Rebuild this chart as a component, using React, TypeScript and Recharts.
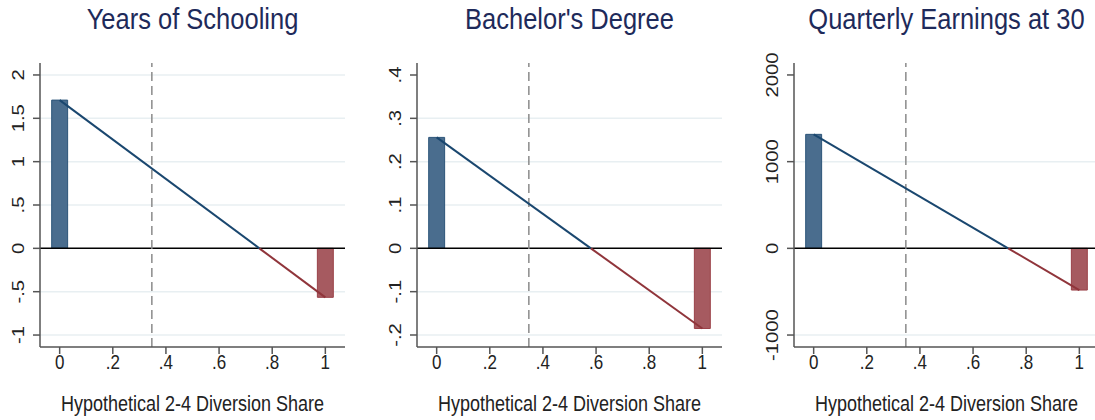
import React from 'react';
import { ComposedChart, XAxis, YAxis, Line, ReferenceArea, ReferenceLine, CartesianGrid } from 'recharts';

// values: effect at share 0 (blue bar) and at share 1 (red bar)
const titles = ['Years of Schooling', "Bachelor's Degree", 'Quarterly Earnings at 30'];
const atZero = [1.71, 0.256, 1315];
const atOne = [-0.565, -0.185, -481];
const yTicks = [
  [-1, -0.5, 0, 0.5, 1, 1.5, 2],
  [-0.2, -0.1, 0, 0.1, 0.2, 0.3, 0.4],
  [-1000, 0, 1000, 2000],
];
const gridVals = [
  [-1, -0.5, 0.5, 1, 1.5, 2],
  [-0.2, -0.1, 0.1, 0.2, 0.3],
  [-1000, 1000],
];
const yDomains: [number, number][] = [
  [-1.138, 2.138],
  [-0.2277, 0.4277],
  [-1138, 2138],
];
const xTicks = [0, 0.2, 0.4, 0.6, 0.8, 1];
const cutoff = 0.347;
const xLabel = 'Hypothetical 2-4 Diversion Share';

const panelLeft = [0, 377, 754];
const W = 365;
const H = 420;
const AXIS_W = 40;
const PLOT_W = 305;
const SY = 1.19;
const FONT = '"Liberation Sans", Arial, sans-serif';

const BLUE_LINE = '#1a476f';
const BLUE_FILL = '#4a6d8e';
const BLUE_EDGE = '#2c5479';
const RED_LINE = '#90353b';
const RED_FILL = '#a65a60';
const RED_EDGE = '#9a4048';
const GRID = '#e8eff2';
const AXIS = '#555';

const fmt = (v: number) => String(v).replace(/^(-?)0\./, '$1.');

function Stretch({ x, y, size, rotate, anchor = 'middle', fill = '#222', children }: any) {
  return (
    <g transform={`translate(${x},${y}) scale(1,${SY})${rotate ? ' rotate(-90)' : ''}`}>
      <text textAnchor={anchor} fontSize={size} fill={fill} fontFamily={FONT}>
        {children}
      </text>
    </g>
  );
}

const YTick = (p: any) => (
  <Stretch x={p.x - 7} y={p.y} size={17} rotate>
    {fmt(p.payload.value)}
  </Stretch>
);

const XTick = (p: any) => (
  <Stretch x={p.x} y={p.y + 13} size={17}>
    {fmt(p.payload.value)}
  </Stretch>
);

function Panel({ i }: { i: number }) {
  const v0 = atZero[i];
  const v1 = atOne[i];
  const cross = v0 / (v0 - v1);
  const blueSeg = [
    { x: 0, y: v0 },
    { x: cross, y: 0 },
  ];
  const redSeg = [
    { x: cross, y: 0 },
    { x: 1, y: v1 },
  ];
  return (
    <div style={{ position: 'absolute', left: panelLeft[i], top: 0, width: W, height: H }}>
      <ComposedChart width={W} height={H} margin={{ top: 63, right: 20, bottom: 0, left: 0 }}>
        <CartesianGrid
          vertical={false}
          horizontalValues={gridVals[i]}
          stroke={GRID}
          strokeWidth={1.5}
        />
        <XAxis
          type="number"
          dataKey="x"
          domain={[-0.074, 1.074]}
          allowDataOverflow
          ticks={xTicks}
          height={73}
          tickSize={7}
          stroke={AXIS}
          strokeWidth={1.5}
          tick={<XTick />}
        />
        <YAxis
          type="number"
          dataKey="y"
          domain={yDomains[i]}
          allowDataOverflow
          ticks={yTicks[i]}
          width={AXIS_W}
          tickSize={7}
          stroke={AXIS}
          strokeWidth={1.5}
          tick={<YTick />}
        />
        <ReferenceArea x1={-0.03} x2={0.03} y1={0} y2={v0} fill={BLUE_FILL} fillOpacity={1} stroke={BLUE_EDGE} strokeWidth={1} />
        <ReferenceArea x1={0.97} x2={1.03} y1={v1} y2={0} fill={RED_FILL} fillOpacity={1} stroke={RED_EDGE} strokeWidth={1} />
        <ReferenceLine y={0} stroke="#000" strokeWidth={1.5} />
        <ReferenceLine x={cutoff} stroke="#8a8a8a" strokeWidth={1.5} strokeDasharray="9 5" />
        <Line data={blueSeg} dataKey="y" stroke={BLUE_LINE} strokeWidth={2} dot={false} isAnimationActive={false} />
        <Line data={redSeg} dataKey="y" stroke={RED_LINE} strokeWidth={2} dot={false} isAnimationActive={false} />
      </ComposedChart>
      <svg width={W} height={H} style={{ position: 'absolute', left: 0, top: 0, pointerEvents: 'none' }}>
        <Stretch x={AXIS_W + PLOT_W / 2} y={29} size={25.5} fill="#1e2a5a">
          {titles[i]}
        </Stretch>
        <Stretch x={AXIS_W + PLOT_W / 2} y={411} size={18}>
          {xLabel}
        </Stretch>
      </svg>
    </div>
  );
}

export default function App() {
  return (
    <div
      style={{
        position: 'absolute',
        left: 0,
        top: 0,
        width: 1095,
        height: 420,
        overflow: 'hidden',
        background: '#fff',
      }}
    >
      {titles.map((_, i) => (
        <Panel key={i} i={i} />
      ))}
    </div>
  );
}
